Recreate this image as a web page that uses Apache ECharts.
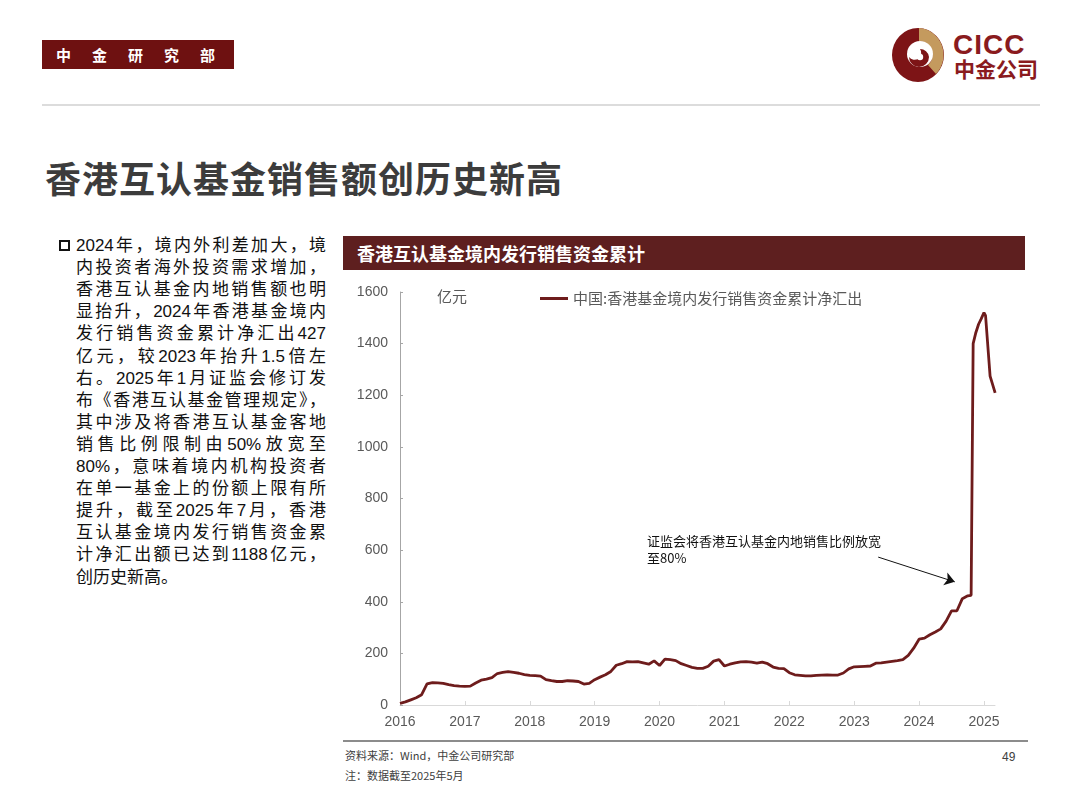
<!DOCTYPE html>
<html>
<head>
<meta charset="utf-8">
<script src="https://cdn.jsdelivr.net/npm/echarts@6/dist/echarts.min.js"></script>
<style>
  html, body { margin:0; padding:0; background:#fff; }
  body { width:1080px; height:810px; position:relative; overflow:hidden;
         font-family:"Liberation Sans","Noto Sans CJK SC",sans-serif; }
  .abs { position:absolute; }
  #hdr { left:42px; top:40px; width:192px; height:29px; background:#6e1111; color:#fff;
         font:bold 15px "Noto Sans CJK SC",sans-serif; line-height:29px; letter-spacing:21px;
         padding-left:14px; box-sizing:border-box; white-space:nowrap; }
  #rule { left:42px; top:104px; width:998px; height:2px; background:#dcdcdc; }
  #title { left:45px; top:153px; font:bold 36px "Noto Sans CJK SC",sans-serif; color:#3c3c3c;
           letter-spacing:1px; line-height:48px; white-space:nowrap; }
  #bullet { left:59px; top:240px; width:7px; height:7px; border:2px solid #111; }
  .ln { position:absolute; left:76px; width:250px; height:22px; line-height:22px; font-size:17px;
        color:#111; text-align:justify; text-align-last:justify; white-space:nowrap; }
  #bar { left:343px; top:236px; width:682px; height:34px; background:#5e1f1f; color:#fff;
         font:bold 18px "Noto Sans CJK SC",sans-serif; line-height:34px; padding-left:14px; box-sizing:border-box; }
  #foot { left:343px; top:740px; width:685px; height:2px; background:#8c8c8c; }
  .src { font-size:11px; color:#404040; font-family:"Noto Sans CJK SC",sans-serif; white-space:nowrap; }
  #chart { left:0; top:0; width:1080px; height:810px; }
  #cicc { left:953px; top:30px; font:bold 28px "Liberation Sans",sans-serif; color:#8a1b1e; letter-spacing:1px; line-height:30px; }
  #cicc2 { left:954px; top:56px; font:bold 21px "Noto Sans CJK SC",sans-serif; color:#8a1b1e; line-height:24px; }
</style>
</head>
<body>
<div id="hdr" class="abs">中金研究部</div>
<svg class="abs" style="left:890px;top:27px" width="56" height="56" viewBox="0 0 56 56">
  <ellipse cx="28" cy="28" rx="26" ry="27" fill="#7d1416"/>
  <path d="M29,1 A26,27 0 0 1 46,47 L38,38 A14,14 0 0 0 29,14 Z" fill="#c49a5e"/>
  <circle cx="30" cy="27" r="13" fill="#fff"/>
  <path d="M30,27 m-11,3 a10,10 0 1 0 20,0 a9,9 0 0 0 -9,-8 a6,6 0 0 1 -11,8 Z" fill="#7d1416"/>
  <circle cx="30" cy="30" r="3.2" fill="#fff"/>
</svg>
<div id="cicc" class="abs">CICC</div>
<div id="cicc2" class="abs">中金公司</div>
<div id="rule" class="abs"></div>
<div id="title" class="abs">香港互认基金销售额创历史新高</div>
<div id="bullet" class="abs"></div>
<div id="textblock"></div>
<div id="bar" class="abs">香港互认基金境内发行销售资金累计</div>
<div id="foot" class="abs"></div>
<div class="abs src" style="left:345px;top:747px;">资料来源：Wind，中金公司研究部</div>
<div class="abs src" style="left:345px;top:767px;">注：数据截至2025年5月</div>
<div class="abs src" style="left:1002px;top:750px;font-size:12px;font-family:'Liberation Sans',sans-serif;">49</div>
<div id="chart" class="abs"></div>
<script>
// ---- body text lines ----
const bodyLines = [
  '2024年，境内外利差加大，境',
  '内投资者海外投资需求增加，',
  '香港互认基金内地销售额也明',
  '显抬升，2024年香港基金境内',
  '发行销售资金累计净汇出427',
  '亿元，较2023年抬升1.5倍左',
  '右。2025年1月证监会修订发',
  '布《香港互认基金管理规定》，',
  '其中涉及将香港互认基金客地',
  '销售比例限制由50%放宽至',
  '80%，意味着境内机构投资者',
  '在单一基金上的份额上限有所',
  '提升，截至2025年7月，香港',
  '互认基金境内发行销售资金累',
  '计净汇出额已达到1188亿元，',
  '创历史新高。'
];
const tb = document.getElementById('textblock');
bodyLines.forEach((t, i) => {
  const d = document.createElement('div');
  d.className = 'ln';
  d.style.top = (235 + i * 22.1) + 'px';
  if (i === bodyLines.length - 1) d.style.textAlignLast = 'left';
  d.textContent = t;
  tb.appendChild(d);
});

// ---- chart data ----
const seriesName = '中国:香港基金境内发行销售资金累计净汇出';
const yearTicks = [2016, 2017, 2018, 2019, 2020, 2021, 2022, 2023, 2024, 2025];
const dates = [
  '2016-01-01','2016-02-01','2016-03-01','2016-04-01','2016-05-01','2016-06-01','2016-07-01','2016-08-01','2016-09-01','2016-10-01','2016-11-01','2016-12-01',
  '2017-01-01','2017-02-01','2017-03-01','2017-04-01','2017-05-01','2017-06-01','2017-07-01','2017-08-01','2017-09-01','2017-10-01','2017-11-01','2017-12-01',
  '2018-01-01','2018-02-01','2018-03-01','2018-04-01','2018-05-01','2018-06-01','2018-07-01','2018-08-01','2018-09-01','2018-10-01','2018-11-01','2018-12-01',
  '2019-01-01','2019-02-01','2019-03-01','2019-04-01','2019-05-01','2019-06-01','2019-07-01','2019-08-01','2019-09-01','2019-10-01','2019-11-01','2019-12-01',
  '2020-01-01','2020-02-01','2020-03-01','2020-04-01','2020-05-01','2020-06-01','2020-07-01','2020-08-01','2020-09-01','2020-10-01','2020-11-01','2020-12-01',
  '2021-01-01','2021-02-01','2021-03-01','2021-04-01','2021-05-01','2021-06-01','2021-07-01','2021-08-01','2021-09-01','2021-10-01','2021-11-01','2021-12-01',
  '2022-01-01','2022-02-01','2022-03-01','2022-04-01','2022-05-01','2022-06-01','2022-07-01','2022-08-01','2022-09-01','2022-10-01','2022-11-01','2022-12-01',
  '2023-01-01','2023-02-01','2023-03-01','2023-04-01','2023-05-01','2023-06-01','2023-07-01','2023-08-01','2023-09-01','2023-10-01','2023-11-01','2023-12-01',
  '2024-01-01','2024-02-01','2024-03-01','2024-04-01','2024-05-01','2024-06-01','2024-07-01','2024-08-01','2024-09-01','2024-10-01','2024-10-20','2024-11-01','2024-11-15','2024-12-01','2024-12-15',
  '2025-01-01','2025-01-10','2025-02-05','2025-03-03'
];
const values = [
  6, 12, 20, 28, 40, 82, 87, 86, 84, 79, 75, 73,
  72, 73, 85, 96, 100, 106, 122, 126, 129, 126, 123, 118,
  115, 114, 112, 98, 94, 91, 91, 94, 93, 91, 81, 84,
  98, 108, 117, 130, 154, 160, 168, 167, 168, 163, 158, 171,
  153, 178, 176, 172, 160, 153, 146, 142, 142, 150, 170, 176,
  151, 158, 163, 167, 168, 166, 162, 166, 160, 147, 142, 141,
  125, 117, 115, 113, 113, 115, 116, 117, 116, 116, 124, 140,
  148, 149, 150, 151, 162, 163, 166, 169, 172, 176, 192, 220,
  255, 259, 272, 283, 295, 325, 365, 365, 412, 423, 425, 1400, 1440, 1475, 1495,
  1520, 1508, 1274, 1209
];
// annotation (arrow from text to the policy change point), in data units
const arrowFrom = [2023.37, 573];
const arrowTo = [2024.55, 477];
const noteText = '证监会将香港互认基金内地销售比例放宽\n至80%';

function toYear(s) {
  const [y, m, d] = s.split('-').map(Number);
  return y + (m - 1) / 12 + (d - 1) / 365;
}
const points = dates.map((d, i) => [toYear(d), values[i]]);

const FONT = "'Liberation Sans','Noto Sans CJK SC',sans-serif";
const chart = echarts.init(document.getElementById('chart'), null, { renderer: 'canvas' });
chart.setOption({
  animation: false,
  backgroundColor: 'transparent',
  textStyle: { fontFamily: FONT },
  grid: { left: 400, top: 292, width: 595, height: 413, containLabel: false },
  legend: {
    show: true, left: 540, top: 291, padding: 0,
    icon: 'rect', itemWidth: 28, itemHeight: 3,
    data: [seriesName],
    textStyle: { fontSize: 15, color: '#595959', fontFamily: "'Noto Sans CJK SC',sans-serif" }
  },
  xAxis: {
    type: 'value', min: 2016, max: 2025.17, interval: 1,
    axisLine: { show: true, lineStyle: { color: '#d9d9d9', width: 1 } },
    axisTick: { show: true, inside: true, length: 4, lineStyle: { color: '#d9d9d9' }, customValues: yearTicks },
    axisLabel: { show: true, customValues: yearTicks, formatter: v => String(Math.round(v)),
                 color: '#595959', fontSize: 14, margin: 10 },
    splitLine: { show: false }
  },
  yAxis: {
    type: 'value', min: 0, max: 1600, interval: 200,
    axisLine: { show: true, lineStyle: { color: '#a6a6a6', width: 1 } },
    axisTick: { show: true, inside: true, length: 3, lineStyle: { color: '#a6a6a6' } },
    axisLabel: { color: '#595959', fontSize: 14, margin: 12, formatter: v => String(v) },
    splitLine: { show: false }
  },
  graphic: [
    { type: 'text', left: 437, top: 289, style: { text: '亿元', fontSize: 15, fill: '#595959', fontFamily: "'Noto Sans CJK SC',sans-serif" } },
    { type: 'text', left: 647, top: 533, style: { text: noteText, fontSize: 13, lineHeight: 17, fill: '#111', fontFamily: "'Noto Sans CJK SC',sans-serif" } }
  ],
  series: [{
    name: seriesName,
    type: 'line',
    data: points,
    showSymbol: false,
    symbol: 'none',
    color: '#6e1c1c',
    lineStyle: { color: '#6e1c1c', width: 2.8 },
    markLine: {
      silent: true,
      symbol: ['none', 'arrow'],
      symbolSize: 10,
      label: { show: false },
      itemStyle: { color: '#111' },
      lineStyle: { color: '#111', width: 1, type: 'solid' },
      data: [[{ coord: arrowFrom }, { coord: arrowTo }]]
    }
  }]
});
</script>
</body>
</html>
